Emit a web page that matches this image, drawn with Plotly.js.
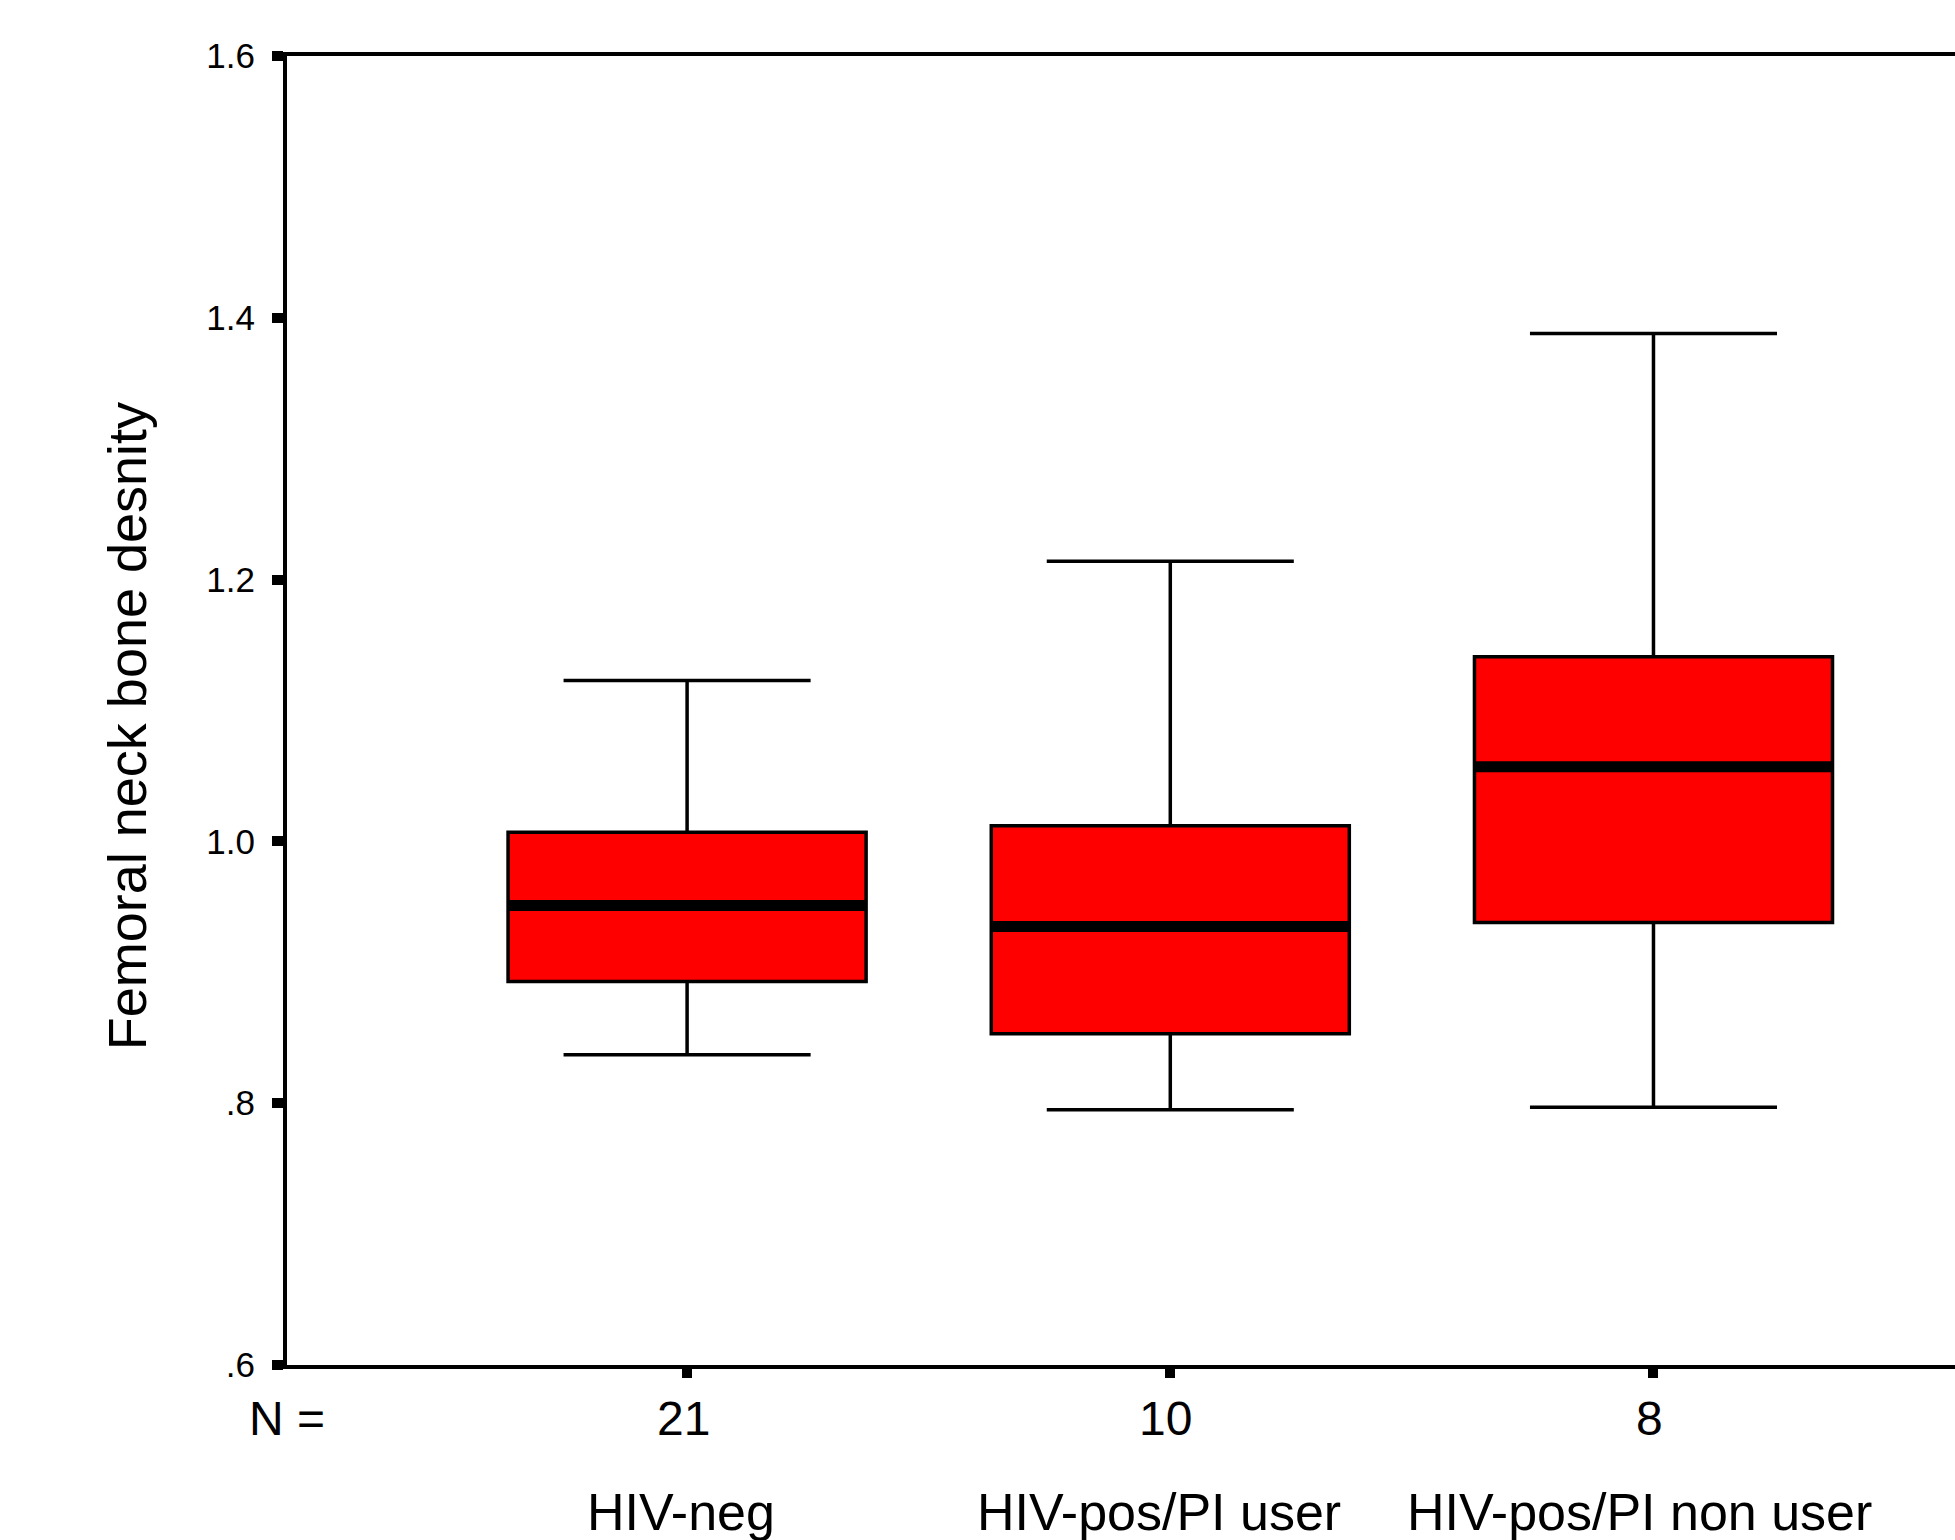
<!DOCTYPE html>
<html>
<head>
<meta charset="utf-8">
<script src="https://cdn.plot.ly/plotly-3.0.1.min.js"></script>
<style>
  html, body { margin: 0; padding: 0; background: #ffffff; }
  #chart { width: 1955px; height: 1540px; }
</style>
</head>
<body>
<div id="chart"></div>
<script>
// ---- data ----
const categories = ['HIV-neg', 'HIV-pos/PI user', 'HIV-pos/PI non user'];
const nCounts = [21, 10, 8];
const lowerWhisker = [0.837, 0.795, 0.797];
const q1Values = [0.893, 0.853, 0.938];
const medianValues = [0.951, 0.935, 1.057];
const q3Values = [1.007, 1.012, 1.141];
const upperWhisker = [1.123, 1.214, 1.388];
const yTickVals = [0.6, 0.8, 1.0, 1.2, 1.4, 1.6];
const yTickText = ['.6', '.8', '1.0', '1.2', '1.4', '1.6'];
const yTitle = 'Femoral neck bone desnity';
const nLabel = 'N =';

const FONT = 'Liberation Sans, Arial, sans-serif';
const countShift = [-4, -5, -4];
const nameShift = [-6, -11, -14];

const boxTrace = {
  type: 'box',
  x: categories,
  q1: q1Values,
  median: medianValues,
  q3: q3Values,
  lowerfence: lowerWhisker,
  upperfence: upperWhisker,
  boxpoints: false,
  fillcolor: '#ff0000',
  line: { color: '#000000', width: 3.5 },
  width: 0.741,
  whiskerwidth: 0.69,
  hoverinfo: 'skip'
};

// thick median bar drawn as a degenerate box on top
const medianTrace = {
  type: 'box',
  x: categories,
  q1: medianValues,
  median: medianValues,
  q3: medianValues,
  lowerfence: medianValues,
  upperfence: medianValues,
  boxpoints: false,
  fillcolor: 'rgba(0,0,0,0)',
  line: { color: '#000000', width: 11 },
  width: 0.741,
  whiskerwidth: 0,
  hoverinfo: 'skip'
};

const annotations = [];
categories.forEach(function (c, i) {
  annotations.push({
    x: c, xref: 'x', y: -0.0405, yref: 'paper', xshift: countShift[i],
    text: String(nCounts[i]), showarrow: false,
    xanchor: 'center', yanchor: 'middle',
    font: { family: FONT, size: 48, color: '#000000' }
  });
  annotations.push({
    x: c, xref: 'x', y: -0.1123, yref: 'paper', xshift: nameShift[i],
    text: c, showarrow: false,
    xanchor: 'center', yanchor: 'middle',
    font: { family: FONT, size: 52, color: '#000000' }
  });
});
annotations.push({
  x: 0, xref: 'paper', y: -0.0405, yref: 'paper',
  text: nLabel, showarrow: false,
  xanchor: 'center', yanchor: 'middle',
  font: { family: FONT, size: 48, color: '#000000' }
});
annotations.push({
  x: -0.0959, xref: 'paper', y: 0.488, yref: 'paper',
  text: yTitle, showarrow: false, textangle: -90,
  xanchor: 'center', yanchor: 'middle',
  font: { family: FONT, size: 54, color: '#000000' }
});

const layout = {
  width: 1955,
  height: 1540,
  margin: { l: 287, r: 0, t: 56, b: 175, pad: 0 },
  paper_bgcolor: '#ffffff',
  plot_bgcolor: '#ffffff',
  showlegend: false,
  boxmode: 'overlay',
  font: { family: FONT, color: '#000000' },
  xaxis: {
    type: 'category',
    categoryarray: categories,
    range: [-0.828, 2.624],
    showgrid: false,
    zeroline: false,
    showline: true,
    mirror: true,
    linecolor: '#000000',
    linewidth: 4,
    ticks: 'outside',
    ticklen: 9,
    tickwidth: 10,
    tickcolor: '#000000',
    showticklabels: false,
    fixedrange: true
  },
  yaxis: {
    range: [0.6, 1.6],
    tickmode: 'array',
    tickvals: yTickVals,
    ticktext: yTickText,
    showgrid: false,
    zeroline: false,
    showline: true,
    linecolor: '#000000',
    linewidth: 4,
    ticks: 'outside',
    ticklen: 11,
    tickwidth: 10,
    tickcolor: '#000000',
    ticklabelstandoff: 10,
    tickfont: { family: FONT, size: 35, color: '#000000' },
    fixedrange: true
  },
  annotations: annotations
};

Plotly.newPlot('chart', [boxTrace, medianTrace], layout, { staticPlot: true, displayModeBar: false });
</script>
</body>
</html>
